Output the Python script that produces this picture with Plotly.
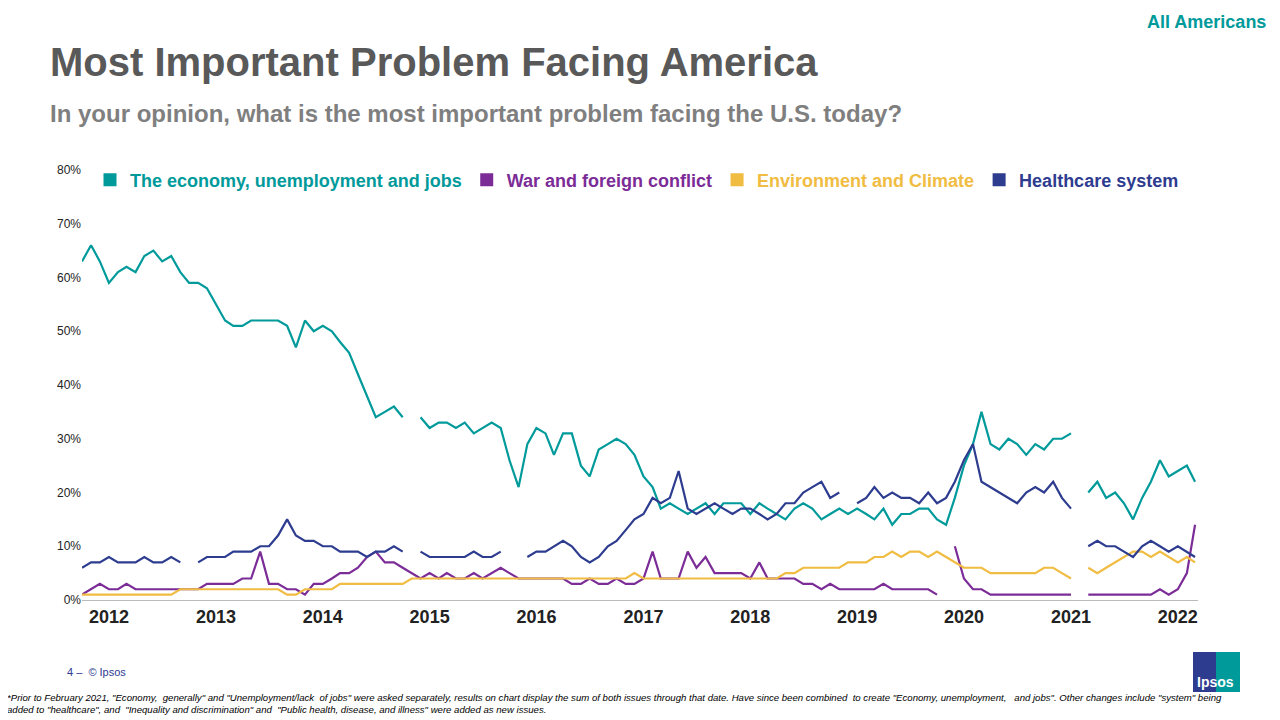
import plotly.graph_objects as go
import pandas as pd

N = None
dates = pd.date_range("2011-10-01", periods=126, freq="MS")

economy = [63,66,63,59,61,62,61,64,65,63,64,61,59,59,58,55,52,51,51,52,52,52,52,51,47,52,50,51,50,48,
           46,42,38,34,35,36,34,N,34,32,33,33,32,33,31,32,33,32,26,21,29,32,31,27,31,31,25,23,28,29,
           30,29,27,23,21,17,18,17,16,17,18,16,18,18,18,16,18,17,16,15,17,18,17,15,16,17,16,17,16,15,
           17,14,16,16,17,17,15,14,19,25,29,35,29,28,30,29,27,29,28,30,30,31,N,20,22,19,20,18,15,19,
           22,26,23,24,25,22]
war = [1,2,3,2,2,3,2,2,2,2,2,2,2,2,3,3,3,3,4,4,9,3,3,2,2,1,3,3,4,5,
       5,6,8,9,7,7,6,5,4,5,4,5,4,4,5,4,5,6,5,4,4,4,4,4,4,3,3,4,3,3,
       4,3,3,4,9,4,4,4,9,6,8,5,5,5,5,4,7,4,4,4,4,3,3,2,3,2,2,2,2,2,
       3,2,2,2,2,2,1,N,10,4,2,2,1,1,1,1,1,1,1,1,1,1,N,1,1,1,1,1,1,1,
       1,2,1,2,5,14]
environment = [1,1,1,1,1,1,1,1,1,1,1,2,2,2,2,2,2,2,2,2,2,2,2,1,1,2,2,2,2,3,
               3,3,3,3,3,3,3,4,4,4,4,4,4,4,4,4,4,4,4,4,4,4,4,4,4,4,4,4,4,4,
               4,4,5,4,4,4,4,4,4,4,4,4,4,4,4,4,4,4,4,5,5,6,6,6,6,6,7,7,7,8,
               8,9,8,9,9,8,9,8,7,6,6,6,5,5,5,5,5,5,6,6,5,4,N,6,5,6,7,8,9,9,
               8,9,8,7,8,7]
healthcare = [6,7,7,8,7,7,7,8,7,7,8,7,N,7,8,8,8,9,9,9,10,10,12,15,12,11,11,10,10,9,
              9,9,8,9,9,10,9,N,9,8,8,8,8,8,9,8,8,9,N,N,8,9,9,10,11,10,8,7,8,10,
              11,13,15,16,19,18,19,24,17,16,17,18,17,16,17,17,16,15,16,18,18,20,21,22,19,20,N,18,19,21,
              19,20,19,19,18,20,18,19,22,26,29,22,21,20,19,18,20,21,20,22,19,17,N,10,11,10,10,9,8,10,
              11,10,9,10,9,8]

series = [
    ("The economy, unemployment and jobs", economy, "#009A9B"),
    ("War and foreign conflict", war, "#7B2C97"),
    ("Environment and Climate", environment, "#F0BC42"),
    ("Healthcare system", healthcare, "#2E3C90"),
]
years = list(range(2012, 2023))

# page body adds an 8px offset; work in reference coordinates and subtract it
OFF = 8
W, H = 1280 - OFF, 720 - OFF
L, R, T, B = 82 - OFF, 82, 170 - OFF, 120
PW, PH = W - L - R, H - T - B
def px(x): return (x - OFF - L) / PW
def py(y): return (H - (y - OFF) - B) / PH

fig = go.Figure()
for name, vals, col in series:
    fig.add_trace(go.Scatter(x=dates, y=[None if v is None else v/100 for v in vals], showlegend=False,
                             mode="lines", line=dict(color=col, width=2.2), connectgaps=False))
for name, vals, col in series:
    fig.add_trace(go.Scatter(x=[None], y=[None], mode="markers", name=f"<b><span style='color:{col}'>{name}</span></b>",
                             marker=dict(symbol="square", size=13, color=col)))

font = "Liberation Sans, Arial, sans-serif"
fig.update_layout(
    width=W, height=H, paper_bgcolor="white", plot_bgcolor="white",
    margin=dict(l=L, r=R, t=T, b=B, autoexpand=False),
    font=dict(family=font),
    legend=dict(orientation="h", x=px(90), y=py(180), yanchor="middle", xanchor="left",
                font=dict(size=18), itemwidth=30, bgcolor="rgba(0,0,0,0)"),
    xaxis=dict(range=[dates[0], dates[-1] + pd.Timedelta(days=10)], tickvals=[pd.Timestamp(f"{y}-01-01") for y in years],
               ticktext=[f"<b>{y}</b>" for y in years], tickfont=dict(size=18, color="#222"),
               showgrid=False, showline=True, linecolor="#bbb", ticks="", automargin=False),
    yaxis=dict(range=[0, 0.8], tickvals=[i/10 for i in range(9)], tickformat=".0%",
               tickfont=dict(size=12, color="#222"), showgrid=False, zeroline=False, ticks="",
               tickprefix="<b>", ticksuffix="</b>", automargin=False),
)

annots = [
    (48, 62, "<b>Most Important Problem Facing America</b>", 40, "#595959"),
    (48, 114, "<b>In your opinion, what is the most important problem facing the U.S. today?</b>", 24, "#7F7F7F"),
    (65, 672, "4 –  © Ipsos", 11, "#2E3C90"),
    (5, 703, "<i>*Prior to February 2021, \"Economy,  generally\" and \"Unemployment/lack  of jobs\" were asked separately, results on chart display the sum of both issues through that date. Have since been combined  to create \"Economy, unemployment,   and jobs\". Other changes include \"system\" being<br>added to \"healthcare\", and  \"Inequality and discrimination\" and  \"Public health, disease, and illness\" were added as new issues.</i>", 9.6, "#000"),
]
for x, y, t, s, c in annots:
    fig.add_annotation(xref="paper", yref="paper", x=px(x), y=py(y), text=t, showarrow=False,
                       xanchor="left", yanchor="middle", align="left", font=dict(size=s, color=c, family=font))
fig.add_annotation(xref="paper", yref="paper", x=px(1268), y=py(22), text="<b>All Americans</b>",
                   showarrow=False, xanchor="right", yanchor="middle", font=dict(size=18, color="#009A9B", family=font))
fig.add_shape(type="rect", xref="paper", yref="paper", x0=px(1193), x1=px(1240), y0=py(692), y1=py(652),
              fillcolor="#2E3C90", line_width=0)
fig.add_shape(type="rect", xref="paper", yref="paper", x0=px(1216), x1=px(1240), y0=py(692), y1=py(652),
              fillcolor="#009A9B", line_width=0)
fig.add_annotation(xref="paper", yref="paper", x=px(1215), y=py(682), text="<b>Ipsos</b>",
                   xanchor="center", yanchor="middle",
                   showarrow=False, font=dict(size=14, color="white", family=font))
fig.write_html("out.html")
